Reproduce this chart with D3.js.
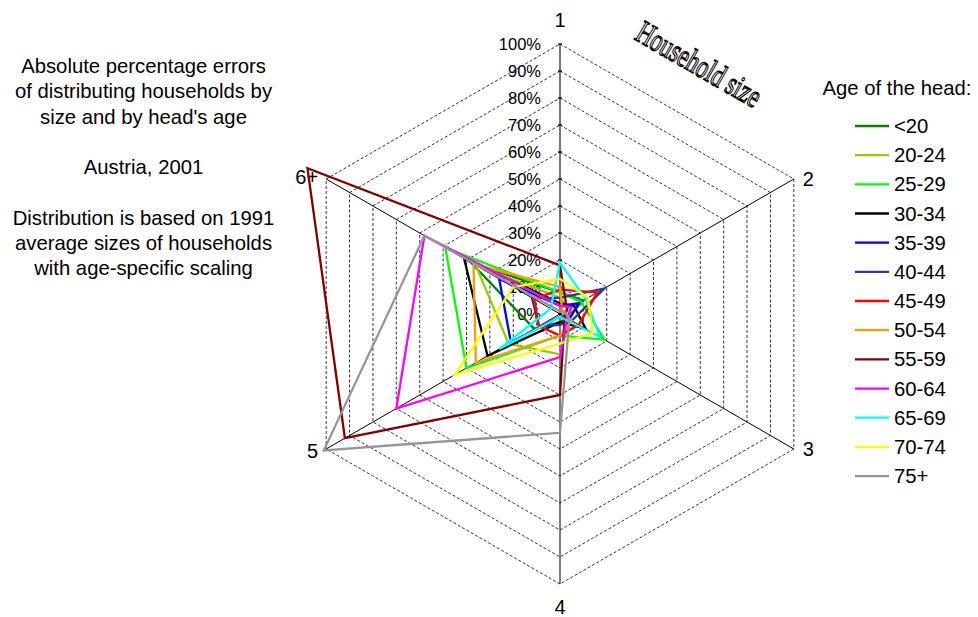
<!DOCTYPE html>
<html><head><meta charset="utf-8">
<script src="https://cdn.jsdelivr.net/npm/d3@7"></script>
<style>body{margin:0;background:#fff}svg{display:block}</style>
</head><body>
<svg id="c" width="978" height="617"></svg>
<script>
// ---------- data ----------
const axisLabels = ["1", "2", "3", "4", "5", "6+"];
const ageGroups = ["<20","20-24","25-29","30-34","35-39","40-44","45-49","50-54","55-59","60-64","65-69","70-74","75+"];
// values per household size 1,2,3,4,5,6+ (absolute % error)
const vLt20  = [8, 10, 3, 3, 11, 38];
const v2024  = [6, 4, 4, 15, 22, 36];
const v2529  = [8, 9, 19, 8, 40, 49];
const v3034  = [4, 6, 11, 3, 31, 41];
const v3539  = [3, 8, 4, 1, 21, 26];
const v4044  = [6, 19, 5, 4, 9, 12];
const v4549  = [9, 16, 8, 8, 9, 11];
const v5054  = [10, 1, 5, 8, 36, 37];
const v5559  = [18, 3, 2, 30, 92, 108];
const v6064  = [3, 5, 3, 16, 70, 58];
const v6569  = [19, 11, 17, 1, 26, 4];
const v7074  = [13, 12, 14, 11, 45, 20];
const v75p   = [1, 2, 4, 44, 101, 58];
const seriesValues = [vLt20, v2024, v2529, v3034, v3539, v4044, v4549, v5054, v5559, v6064, v6569, v7074, v75p];
const tickValues = [0, 10, 20, 30, 40, 50, 60, 70, 80, 90, 100];
const tickLabels = tickValues.map(d => d + "%");
const titleLines = ["Absolute percentage errors", "of distributing households by", "size and by head's age", "", "Austria, 2001", "", "Distribution is based on 1991", "average sizes of households", "with age-specific scaling"];
const legendTitle = "Age of the head:";
const axisTitle = "Household size";

// ---------- styles ----------
const seriesColors = ["#008000","#99cc00","#00ff00","#000000","#0000ff","#333399","#ff0000","#ff9900","#800000","#ff00ff","#00ffff","#ffff00","#969696"];
const FONT = "'Liberation Sans', Arial, sans-serif";

const svg = d3.select("#c");
const cx = 560, cy = 314;
const r = d3.scaleLinear().domain([0, 100]).range([0, 270]);
const ang = d3.scaleLinear().domain([0, axisLabels.length]).range([0, 2 * Math.PI]);
const pt = (i, v) => [cx + r(v) * Math.sin(ang(i)), cy - r(v) * Math.cos(ang(i))];

const g = svg.append("g");
const radial = d3.lineRadial().curve(d3.curveLinearClosed)
  .angle(d => d[0]).radius(d => d[1]);

// grid rings
g.selectAll("path.ring").data(tickValues.filter(t => t > 0)).join("path")
  .attr("class", "ring")
  .attr("transform", `translate(${cx},${cy})`)
  .attr("d", t => radial(axisLabels.map((a, i) => [ang(i), r(t)])))
  .attr("fill", "none").attr("stroke", "#000").attr("stroke-width", 0.8)
  .attr("stroke-dasharray", "3,2");

// spokes
g.selectAll("line.spoke").data(axisLabels).join("line")
  .attr("x1", cx).attr("y1", cy)
  .attr("x2", (a, i) => pt(i, 100)[0]).attr("y2", (a, i) => pt(i, 100)[1])
  .attr("stroke", (a, i) => i === 0 ? "#555" : "#000")
  .attr("stroke-width", (a, i) => i === 0 ? 1.6 : 1);

// tick marks on axis 1
g.selectAll("line.tick").data(tickValues).join("line")
  .attr("x1", cx - 2).attr("x2", cx + 2)
  .attr("y1", t => cy - r(t)).attr("y2", t => cy - r(t))
  .attr("stroke", "#000").attr("stroke-width", 1.2);

// tick labels
g.selectAll("text.tl").data(tickValues).join("text")
  .attr("x", cx - 19).attr("y", t => cy - r(t))
  .attr("text-anchor", "end").attr("dominant-baseline", "central")
  .attr("font-family", FONT).attr("font-size", 16.5)
  .text((t, i) => tickLabels[i]);

// axis labels
const labelOff = [[0, -24, "middle"], [9, 0, "start"], [9, 0, "start"], [0, 23, "middle"], [-8, 2, "end"], [-8, -2, "end"]];
g.selectAll("text.al").data(axisLabels).join("text")
  .attr("x", (a, i) => pt(i, 100)[0] + labelOff[i][0])
  .attr("y", (a, i) => pt(i, 100)[1] + labelOff[i][1])
  .attr("text-anchor", (a, i) => labelOff[i][2])
  .attr("dominant-baseline", "central")
  .attr("font-family", FONT).attr("font-size", 20)
  .text(a => a);

// series
const lineGen = d3.lineRadial().curve(d3.curveLinearClosed)
  .angle((v, i) => ang(i)).radius(v => r(v));
g.append("g").attr("transform", `translate(${cx},${cy})`)
  .selectAll("path").data(seriesValues).join("path")
  .attr("d", d => lineGen(d))
  .attr("fill", "none")
  .attr("stroke", (d, i) => seriesColors[i])
  .attr("stroke-width", 2.3)
  .attr("stroke-linejoin", "miter");

// left title block
svg.append("g").selectAll("text").data(titleLines).join("text")
  .attr("x", 143.5).attr("y", (d, i) => 66 + i * 25.3)
  .attr("text-anchor", "middle").attr("dominant-baseline", "central")
  .attr("font-family", FONT).attr("font-size", 20.3)
  .text(d => d);

// axis title (WordArt style)
svg.append("text")
  .attr("transform", "translate(699,64) rotate(30) scale(0.78,1.12)")
  .attr("text-anchor", "middle").attr("dominant-baseline", "central")
  .attr("font-family", "'Liberation Serif', 'Times New Roman', serif")
  .attr("font-size", 29)
  .attr("fill", "#fff").attr("stroke", "#000").attr("stroke-width", 1.2)
  .text(axisTitle);

// legend
const lg = svg.append("g");
lg.append("text").attr("x", 897).attr("y", 88)
  .attr("text-anchor", "middle").attr("dominant-baseline", "central")
  .attr("font-family", FONT).attr("font-size", 20.3).text(legendTitle);
const li = lg.selectAll("g.li").data(ageGroups).join("g")
  .attr("transform", (d, i) => `translate(0,${126 + i * 29.17})`);
li.append("line").attr("x1", 855).attr("x2", 889).attr("y1", 0).attr("y2", 0)
  .attr("stroke", (d, i) => seriesColors[i]).attr("stroke-width", 2.3);
li.append("text").attr("x", 894).attr("y", 0).attr("dominant-baseline", "central")
  .attr("font-family", FONT).attr("font-size", 20.3).text(d => d);
</script>
</body></html>
